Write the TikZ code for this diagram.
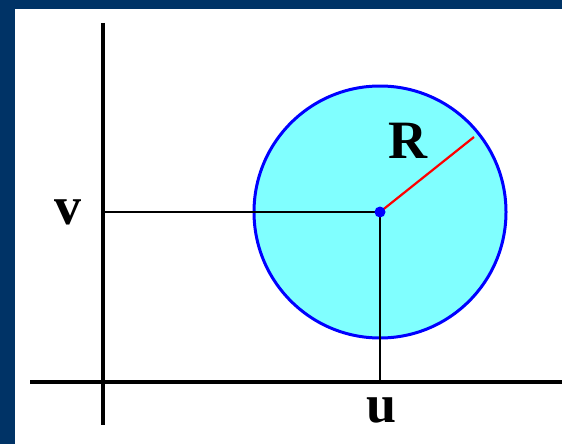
\documentclass[tikz,border=0pt]{standalone}
\usepackage{fontspec}
\setmainfont{Liberation Serif}
\definecolor{frame}{HTML}{003366}
\definecolor{disc}{HTML}{80FFFF}
\begin{document}
\begin{tikzpicture}[x=1pt,y=-1pt,
  axis/.style={line width=4pt,black},
  guide/.style={line width=1.8pt,black},
  lbl/.style={font=\fontsize{54}{54}\selectfont\bfseries,inner sep=0pt}]
\useasboundingbox (0,0) rectangle (562,444);
\fill[frame] (0,0) rectangle (562,444);
\fill[white] (15,9) rectangle (562,444);
% axes
\coordinate (ytop) at (103,23);
\coordinate (ybot) at (103,425);
\coordinate (xl) at (30,382);
\coordinate (xr) at (562,382);
\draw[axis] (ytop) -- (ybot);
\draw[axis] (xl) -- (xr);
% disc
\coordinate (c) at (380,212);
\filldraw[fill=disc,draw=blue,line width=3pt] (c) circle[radius=126];
\coordinate (vx) at (103,212);
\coordinate (ux) at (380,382);
\draw[guide] (vx) -- (c) -- (ux);
\coordinate (rp) at (474,137);
\draw[red,line width=2.2pt] (c) -- (rp);
\fill[blue] (c) circle[radius=5.5];
% labels
\node[lbl] (v) at (68,212) {v};
\node[lbl] (u) at (382,410) {u};
\node[lbl] (R) at (408,141) {R};
\end{tikzpicture}
\end{document}
